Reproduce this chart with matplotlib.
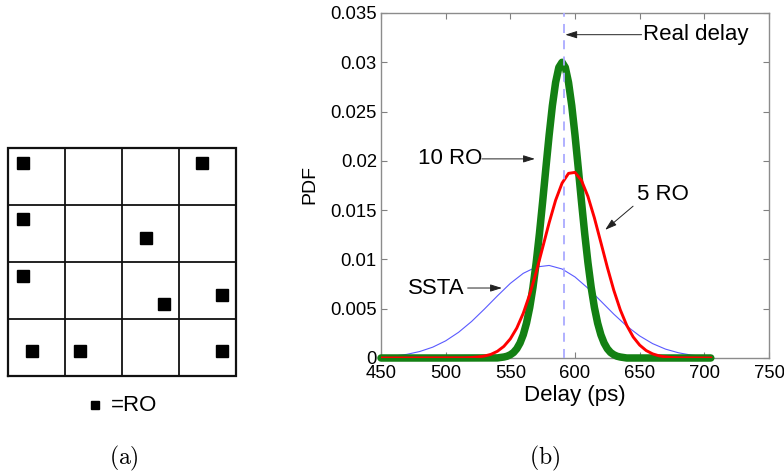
import matplotlib
matplotlib.use("Agg")
import matplotlib.pyplot as plt

plt.rcParams['font.family'] = ['Liberation Sans', 'DejaVu Sans']
plt.rcParams['mathtext.fontset'] = 'cm'

# ---------------- Panel (a) data: RO positions in a 4x4 grid (cell units) ----------------
grid_n = 4
ro_x = [0.26, 3.41, 0.26, 2.42, 0.26, 2.74, 3.75, 0.42, 1.26, 3.75]
ro_y = [3.75, 3.75, 2.76, 2.42, 1.76, 1.26, 1.42, 0.44, 0.44, 0.44]
legend_label = "=RO"

# ---------------- Panel (b) data ----------------
green_x = [450, 500, 540, 545, 547.5, 550, 552.5, 555, 557.5, 560, 562.5, 565, 567.5,
           570, 572.5, 575, 577.5, 580, 582.5, 585, 587.5, 590, 592.5, 595, 597.5,
           600, 602.5, 605, 607.5, 610, 612.5, 615, 617.5, 620, 622.5, 625, 627.5,
           630, 632.5, 635, 640, 705]
green_y = [0, 0, 0.00001, 0.0001, 0.00018, 0.00033, 0.00056, 0.00094, 0.00152, 0.00236,
           0.00354, 0.00513, 0.00717, 0.00968, 0.01262, 0.01588, 0.01929, 0.02261,
           0.02559, 0.02795, 0.02948, 0.0300, 0.02948, 0.02795, 0.02559, 0.02261,
           0.01929, 0.01588, 0.01262, 0.00968, 0.00717, 0.00513, 0.00354, 0.00236,
           0.00152, 0.00094, 0.00056, 0.00033, 0.00018, 0.0001, 0, 0]

red_x = [450, 515, 520, 525, 530, 535, 540, 545, 550, 555, 560, 565, 570, 575, 580,
         585, 590, 595, 600, 605, 610, 615, 620, 625, 630, 635, 640, 645, 650, 655,
         660, 665, 670, 675, 680, 705]
red_y = [0, 0.00002, 0.00005, 0.0001, 0.0002, 0.00037, 0.00068, 0.00118, 0.00194,
         0.00304, 0.00454, 0.00645, 0.00871, 0.01121, 0.01372, 0.0160, 0.01774,
         0.01873, 0.01883, 0.01801, 0.01639, 0.01421, 0.01172, 0.0092, 0.00687,
         0.00489, 0.00331, 0.00213, 0.00131, 0.00076, 0.00042, 0.00022, 0.00011,
         0.00005, 0.00002, 0]

blue_x = [450, 460, 470, 480, 490, 500, 510, 520, 530, 540, 550, 560, 570, 580, 590,
          600, 610, 620, 630, 640, 650, 660, 670, 680, 690, 700, 705]
blue_y = [0.0001, 0.0002, 0.00037, 0.00066, 0.0011, 0.00174, 0.00261, 0.0037, 0.00497,
          0.0063, 0.00757, 0.00859, 0.00923, 0.00939, 0.00903, 0.00822, 0.00708,
          0.00577, 0.00445, 0.00324, 0.00224, 0.00146, 0.0009, 0.00053, 0.00029,
          0.00015, 0.00011]

real_delay = 591.5
x_ticks = [450, 500, 550, 600, 650, 700, 750]
y_ticks = [0, 0.005, 0.01, 0.015, 0.02, 0.025, 0.03, 0.035]
y_tick_labels = ["0", "0.005", "0.01", "0.015", "0.02", "0.025", "0.03", "0.035"]

W, H = 784, 475
fig = plt.figure(figsize=(W / 100, H / 100), dpi=100)

# ---------------- Panel (a) ----------------
gx0, gy_top, gsize = 8.3, 148.3, 227.7
axa = fig.add_axes([gx0 / W, (H - gy_top - gsize) / H, gsize / W, gsize / H])
axa.set_xlim(0, grid_n)
axa.set_ylim(0, grid_n)
axa.axis('off')
for i in range(1, grid_n):
    axa.plot([i, i], [0, grid_n], color='#111111', lw=1.3, clip_on=False)
    axa.plot([0, grid_n], [i, i], color='#111111', lw=1.3, clip_on=False)
axa.plot([0, grid_n, grid_n, 0, 0], [0, 0, grid_n, grid_n, 0], color='#111111', lw=1.6,
         clip_on=False, solid_joinstyle='miter')
axa.plot(ro_x, ro_y, linestyle='none', marker='s', markersize=8, color='black',
         clip_on=False)
# legend marker + label (below the grid)
axa.plot([(95 - gx0) / (gsize / grid_n)], [grid_n - (405 - gy_top) / (gsize / grid_n)],
         linestyle='none', marker='s', markersize=5.2, color='black', clip_on=False)
axa.text((110.5 - gx0) / (gsize / grid_n), grid_n - (405.5 - gy_top) / (gsize / grid_n),
         legend_label, fontsize=16, va='center', ha='left', clip_on=False)

# ---------------- Panel (b) ----------------
ax = fig.add_axes([381 / W, (H - 358) / H, 388 / W, 345 / H])
ax.plot(blue_x, blue_y, color='#5a5aff', lw=0.8, zorder=2)
ax.plot(green_x, green_y, color='#138013', lw=5.4, solid_capstyle='round',
        solid_joinstyle='round', zorder=3, clip_on=False)
ax.plot(red_x, red_y, color='#ff0000', lw=2.1, zorder=4)
ax.axvline(real_delay, color='#aaaaff', lw=1.3, linestyle=(0, (5, 4)), zorder=5)

ax.set_xlim(450, 750)
ax.set_ylim(0, 0.035)
ax.set_xticks(x_ticks)
ax.set_yticks(y_ticks)
ax.set_yticklabels(y_tick_labels)
ax.tick_params(direction='in', length=4, width=0.8, colors='#808080', labelcolor='black',
               labelsize=13.3, top=True, right=True)
ax.tick_params(axis='x', pad=5)
ax.tick_params(axis='y', pad=3)
for s in ax.spines.values():
    s.set_color('#8c8c8c')
    s.set_linewidth(1.0)
ax.set_xlabel("Delay (ps)", fontsize=16, labelpad=2.5)
ax.set_ylabel("PDF", fontsize=14)
ax.yaxis.set_label_coords((318 - 381) / 388, (358 - 185) / 345)

arrow_kw = dict(arrowstyle='-|>,head_length=0.7,head_width=0.22', color='#222222', lw=0.7,
                shrinkA=0, shrinkB=0)
ax.text(652.8, 0.0328, "Real delay", fontsize=16, ha='left', va='center')
ax.annotate('', xy=(592.5, 0.0328), xytext=(651.5, 0.0328), arrowprops=arrow_kw)

ax.text(478.7, 0.0202, "10 RO", fontsize=16, ha='left', va='center')
ax.annotate('', xy=(569.0, 0.0202), xytext=(528.0, 0.0202), arrowprops=arrow_kw)

ax.text(647.7, 0.0166, "5 RO", fontsize=16, ha='left', va='center')
ax.annotate('', xy=(623.3, 0.0130), xytext=(644.9, 0.0154), arrowprops=arrow_kw)

ax.text(471.0, 0.0071, "SSTA", fontsize=16, ha='left', va='center')
ax.annotate('', xy=(543.5, 0.0071), xytext=(517.0, 0.0071), arrowprops=arrow_kw)

# sub-captions
fig.text(124 / W, 1 - 458 / H, r"$(\mathrm{a})$", fontsize=17, ha='center', va='center')
fig.text(545 / W, 1 - 458 / H, r"$(\mathrm{b})$", fontsize=17, ha='center', va='center')

fig.savefig("out.png", dpi=100)
